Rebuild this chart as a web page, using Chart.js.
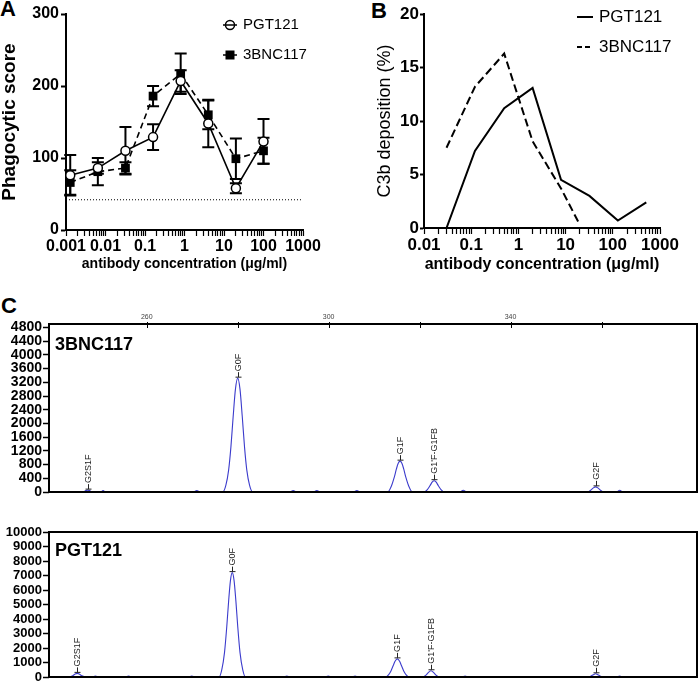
<!DOCTYPE html>
<html>
<head>
<meta charset="utf-8">
<script src="https://cdn.jsdelivr.net/npm/chart.js@4.4.0/dist/chart.umd.min.js"></script>
<style>
body { margin: 0; background: #fff; width: 700px; height: 683px; position: relative; overflow: hidden; font-family: 'Liberation Sans', Arial, sans-serif; }
canvas { position: absolute; }
.tag { position: absolute; font-weight: bold; font-size: 22px; line-height: 22px; }
</style>
</head>
<body>
<div class="tag" style="left:0px;top:-2px">A</div>
<div class="tag" style="left:371px;top:0px">B</div>
<div class="tag" style="left:1px;top:295px">C</div>
<canvas id="chartA" width="350" height="280" style="left:0;top:0"></canvas>
<canvas id="chartB" width="350" height="280" style="left:350px;top:0"></canvas>
<canvas id="chartC1" width="700" height="196" style="left:0;top:300px"></canvas>
<canvas id="chartC2" width="700" height="187" style="left:0;top:496px"></canvas>
<script>
// ---- Panel A: phagocytic score ----
const seriesNames = ['PGT121', '3BNC117'];
const concA = [0.00128, 0.0064, 0.032, 0.16, 0.8, 4, 20, 100];
const pgtA = [76, 86, 110, 129, 207, 148, 58, 123];
const pgtAErr = [28, 8, 33, 18, 15, 33, 7, 31];
const bncA = [66, 81, 86, 186, 217, 160, 99, 110];
const bncAErr = [17, 19, 8, 14, 28, 20, 28, 18];
const cutoffA = 42;
const xLabelsA = ['0.001', '0.01', '0.1', '1', '10', '100', '1000'];

// ---- Panel B: C3b deposition ----
const concBpgt = [0.03, 0.12, 0.5, 2, 8, 32, 128, 512];
const pgtB = [0, 7.2, 11.2, 13.1, 4.5, 3.0, 0.7, 2.4];
const concBbnc = [0.03, 0.12, 0.5, 2, 8, 20];
const bncB = [7.5, 13.2, 16.3, 8.1, 3.7, 0.3];
const xLabelsB = ['0.01', '0.1', '1', '10', '100', '1000'];

// ---- Panel C: glycan profiles [x, signal] ----
const trace3BNC117 = [[238.5,0],[246.0,0],[246.6,40],[247.0,55],[247.4,40],[248.0,0],[249.8,0],[250.4,40],[251.0,0],
  [270.3,0],[271.0,40],[271.7,0],[276.7,0],[277.4,200],[278.0,640],[278.5,1310],[279.0,2200],[279.5,3000],[280.0,3320],
  [280.5,3000],[281.0,2200],[281.5,1310],[282.0,640],[282.6,200],[283.3,0],[291.5,0],[292.2,40],[292.9,0],
  [296.7,0],[297.4,45],[298.1,0],[305.5,0],[306.2,40],[306.9,0],[313.0,0],[313.8,175],[314.4,417],[314.9,673],
  [315.3,837],[315.7,900],[316.1,837],[316.5,673],[317.0,417],[317.6,175],[318.4,0],[320.9,0],[321.7,70],[322.3,188],
  [322.8,295],[323.2,330],[323.6,295],[324.1,188],[324.7,70],[325.5,0],[328.8,0],[329.6,50],[330.4,0],
  [356.9,0],[357.6,50],[358.2,120],[358.7,150],[359.2,120],[359.8,50],[360.5,0],[363.3,0],[364.0,50],[364.7,0],[381,0]];
const tracePGT121 = [[238.5,0],[243.0,0],[243.7,90],[244.2,195],[244.7,250],[245.2,195],[245.7,90],[246.5,0],
  [248.0,0],[248.7,70],[249.4,0],[255.3,0],[256.0,60],[256.7,0],[269.2,0],[269.9,60],[270.6,0],
  [275.9,0],[276.5,510],[277.1,1700],[277.6,3500],[278.0,5230],[278.4,6650],[278.8,7200],[279.2,6650],[279.6,5230],
  [280.0,3500],[280.5,1700],[281.1,510],[281.7,0],[290.1,0],[290.8,70],[291.5,0],[299.2,0],[299.9,60],[300.6,0],
  [305.1,0],[305.8,60],[306.5,0],[312.5,0],[313.2,170],[313.7,420],[314.2,790],[314.6,1090],[315.1,1250],[315.6,1090],
  [316.0,790],[316.5,420],[317.0,170],[317.7,0],[320.7,0],[321.4,130],[321.9,300],[322.5,430],[323.1,300],[323.6,130],
  [324.3,0],[329.3,0],[330.0,70],[330.7,0],[357.0,0],[357.7,70],[358.2,160],[358.7,220],[359.2,160],[359.7,70],
  [360.4,0],[363.3,0],[364.0,70],[364.7,0],[381,0]];
const peakNames = ['G2S1F', 'G0F', 'G1F', "G1'F-G1FB", 'G2F'];
const peakX3BNC = [247.0, 280.0, 315.7, 323.2, 358.7];
const peakY3BNC = [55, 3320, 900, 330, 150];
const peakXPGT = [244.7, 278.8, 315.1, 322.5, 358.7];
const peakYPGT = [250, 7200, 1250, 430, 220];
const xTicksC = [260, 280, 300, 320, 340, 360];
const xLabelsC = ['260', '', '300', '', '340', ''];
const yTicksC1 = [0, 400, 800, 1200, 1600, 2000, 2400, 2800, 3200, 3600, 4000, 4400, 4800];
const yTicksC2 = [0, 1000, 2000, 3000, 4000, 5000, 6000, 7000, 8000, 9000, 10000];

const FONT = "'Liberation Sans', Arial, sans-serif";
Chart.defaults.font.family = FONT;
Chart.defaults.color = '#000';
Chart.defaults.animation = false;

const pts = (xs, ys) => xs.map((x, i) => ({x: x, y: ys[i]}));

// log x axis with minor ticks 2..9 between the labelled decades
function logAxis(labels, size, height) {
  const majors = labels.map(Number);
  return {
    type: 'logarithmic', min: majors[0], max: majors[majors.length - 1],
    afterBuildTicks: s => {
      const vals = [];
      majors.forEach((m, i) => {
        vals.push(m);
        if (i < majors.length - 1) for (let k = 2; k <= 9; k++) vals.push(m * k);
      });
      s.ticks = vals.map(v => ({value: v}));
    },
    afterFit: s => { s.height = height; s.paddingLeft = 0; s.paddingRight = 0; },
    ticks: {
      autoSkip: false, maxRotation: 0, padding: 1,
      font: {size: size, weight: 'bold'},
      callback: v => {
        const i = majors.findIndex(m => Math.abs(m - v) / m < 1e-6);
        return i >= 0 ? labels[i] : '';
      }
    },
    grid: {drawOnChartArea: false, tickLength: 6, color: '#000', tickWidth: 1.2},
    border: {display: true, color: '#000', width: 2}
  };
}

// error bars for panel A
const errorBars = {
  id: 'errorBars',
  beforeDatasetsDraw(chart) {
    const {ctx, scales: {x, y}} = chart;
    ctx.save();
    ctx.strokeStyle = '#000';
    ctx.lineWidth = 2;
    [[pgtA, pgtAErr], [bncA, bncAErr]].forEach(([vals, errs]) => {
      concA.forEach((c, i) => {
        const px = x.getPixelForValue(c);
        const top = y.getPixelForValue(vals[i] + errs[i]);
        const bot = y.getPixelForValue(vals[i] - errs[i]);
        ctx.beginPath();
        ctx.moveTo(px, top); ctx.lineTo(px, bot);
        ctx.moveTo(px - 6, top); ctx.lineTo(px + 6, top);
        ctx.moveTo(px - 6, bot); ctx.lineTo(px + 6, bot);
        ctx.stroke();
      });
    });
    ctx.restore();
  }
};

const legendA = {
  id: 'legendA',
  afterDraw(chart) {
    const ctx = chart.ctx;
    ctx.save();
    ctx.font = '15px ' + FONT;
    ctx.textBaseline = 'middle';
    ctx.fillStyle = '#000';
    ctx.strokeStyle = '#000';
    ctx.lineWidth = 1.5;
    // PGT121: open circle
    ctx.beginPath(); ctx.moveTo(223, 25); ctx.lineTo(237, 25); ctx.stroke();
    ctx.beginPath(); ctx.arc(230, 25, 4.5, 0, Math.PI * 2); ctx.fillStyle = '#fff'; ctx.fill(); ctx.stroke();
    ctx.beginPath(); ctx.moveTo(225.5, 25); ctx.lineTo(234.5, 25); ctx.stroke();
    ctx.fillStyle = '#000';
    ctx.fillText(seriesNames[0], 243, 25);
    // 3BNC117: filled square
    ctx.beginPath(); ctx.moveTo(223, 55); ctx.lineTo(237, 55); ctx.stroke();
    ctx.fillRect(225.5, 50.5, 9, 9);
    ctx.fillText(seriesNames[1], 243, 55);
    ctx.restore();
  }
};

new Chart(document.getElementById('chartA'), {
  type: 'line',
  data: {
    datasets: [
      {data: [{x: 0.001, y: cutoffA}, {x: 1000, y: cutoffA}], borderColor: '#000', borderWidth: 1,
       borderDash: [1, 2], pointRadius: 0},
      {label: seriesNames[0], data: pts(concA, pgtA), borderColor: '#000', borderWidth: 1.6,
       pointStyle: 'circle', pointRadius: 4.5, pointBackgroundColor: '#fff', pointBorderColor: '#000', pointBorderWidth: 1.5},
      {label: seriesNames[1], data: pts(concA, bncA), borderColor: '#000', borderWidth: 1.6, borderDash: [6, 4],
       pointStyle: 'rect', pointRadius: 6.2, pointBackgroundColor: '#000', pointBorderColor: '#000', pointBorderWidth: 0}
    ]
  },
  options: {
    responsive: false, devicePixelRatio: 1,
    layout: {padding: {top: 14, right: 47, bottom: 0, left: 0}},
    plugins: {legend: {display: false}, tooltip: {enabled: false}},
    scales: {
      x: Object.assign(logAxis(xLabelsA, 16, 50), {
        title: {display: true, text: 'antibody concentration (\u03bcg/ml)', font: {size: 14, weight: 'bold'}, padding: {top: 0, bottom: 7}}
      }),
      y: {
        min: 0, max: 300,
        afterFit: s => { s.width = 66; s.paddingTop = 0; s.paddingBottom = 0; },
        ticks: {stepSize: 100, padding: 2, font: {size: 16, weight: 'bold'}},
        grid: {drawOnChartArea: false, tickLength: 5, color: '#000', tickWidth: 2},
        border: {color: '#000', width: 2},
        title: {display: true, text: 'Phagocytic score', font: {size: 19, weight: 'bold', lineHeight: 1}, padding: 0}
      }
    }
  },
  plugins: [errorBars, legendA]
});

// ---- B ----
const legendB = {
  id: 'legendB',
  afterDraw(chart) {
    const ctx = chart.ctx;
    ctx.save();
    ctx.font = '17px ' + FONT;
    ctx.textBaseline = 'middle';
    ctx.fillStyle = '#000';
    ctx.strokeStyle = '#000';
    ctx.lineWidth = 2;
    ctx.beginPath(); ctx.moveTo(227, 17); ctx.lineTo(243, 17); ctx.stroke();
    ctx.fillText(seriesNames[0], 249, 17);
    ctx.setLineDash([5, 3]);
    ctx.beginPath(); ctx.moveTo(227, 47); ctx.lineTo(243, 47); ctx.stroke();
    ctx.setLineDash([]);
    ctx.fillText(seriesNames[1], 249, 47);
    ctx.restore();
  }
};

new Chart(document.getElementById('chartB'), {
  type: 'line',
  data: {
    datasets: [
      {label: seriesNames[0], data: pts(concBpgt, pgtB), borderColor: '#000', borderWidth: 2, pointRadius: 0},
      {label: seriesNames[1], data: pts(concBbnc, bncB), borderColor: '#000', borderWidth: 2, borderDash: [8, 4], pointRadius: 0}
    ]
  },
  options: {
    responsive: false, devicePixelRatio: 1,
    layout: {padding: {top: 14, right: 40, bottom: 0, left: 0}},
    plugins: {legend: {display: false}, tooltip: {enabled: false}},
    scales: {
      x: Object.assign(logAxis(xLabelsB, 17, 52), {
        title: {display: true, text: 'antibody concentration (\u03bcg/ml)', font: {size: 16, weight: 'bold'}, padding: {top: 0, bottom: 6}}
      }),
      y: {
        min: 0, max: 20,
        afterFit: s => { s.width = 74; s.paddingTop = 0; s.paddingBottom = 0; },
        ticks: {stepSize: 5, padding: 1, font: {size: 17, weight: 'bold'}},
        grid: {drawOnChartArea: false, tickLength: 4, color: '#000', tickWidth: 2},
        border: {color: '#000', width: 2},
        title: {display: true, text: 'C3b deposition (%)', font: {size: 18, lineHeight: 1}, padding: {top: 26, bottom: 0}}
      }
    }
  },
  plugins: [legendB]
});

// ---- C ----
function glycanPlugin(xs, ys, panelName, nameOffset, topTicks) {
  return {
    id: 'glycan',
    afterDatasetsDraw(chart) {
      const {ctx, chartArea: a, scales: {x, y}} = chart;
      ctx.save();
      ctx.strokeStyle = '#222';
      ctx.fillStyle = '#222';
      ctx.lineWidth = 1;
      ctx.font = '9px ' + FONT;
      peakNames.forEach((n, i) => {
        const px = Math.round(x.getPixelForValue(xs[i])) + 0.5;
        const py = y.getPixelForValue(ys[i]);
        ctx.beginPath(); ctx.moveTo(px, py - 1); ctx.lineTo(px, py - 6); ctx.stroke();
        ctx.beginPath(); ctx.moveTo(px - 3, py - 1); ctx.lineTo(px + 3, py - 1); ctx.stroke();
        ctx.save();
        ctx.translate(px, py - 7);
        ctx.rotate(-Math.PI / 2);
        ctx.textAlign = 'left';
        ctx.textBaseline = 'middle';
        ctx.fillText(n, 0, 0);
        ctx.restore();
      });
      if (topTicks) {
        ctx.strokeStyle = '#000';
        xTicksC.forEach(v => {
          const px = Math.round(x.getPixelForValue(v)) + 0.5;
          ctx.beginPath(); ctx.moveTo(px, a.top - 2); ctx.lineTo(px, a.top + 4); ctx.stroke();
        });
      }
      ctx.strokeStyle = '#000';
      ctx.lineWidth = 2;
      ctx.strokeRect(a.left, a.top, a.right - a.left, a.bottom - a.top);
      ctx.fillStyle = '#000';
      ctx.font = 'bold 18px ' + FONT;
      ctx.textBaseline = 'alphabetic';
      ctx.fillText(panelName, a.left + 6, a.top + nameOffset);
      ctx.restore();
    }
  };
}

function glycanChart(id, trace, yMax, yTicks, tickSize, xs, ys, name, nameOffset, pad, showTop) {
  new Chart(document.getElementById(id), {
    type: 'line',
    data: {
      datasets: [{data: trace.map(p => ({x: p[0], y: p[1]})), borderColor: '#3b3bcc', borderWidth: 1.1,
                  pointRadius: 0, cubicInterpolationMode: 'monotone'}]
    },
    options: {
      responsive: false, devicePixelRatio: 1,
      layout: {padding: pad},
      plugins: {legend: {display: false}, tooltip: {enabled: false}},
      scales: {
        x: {
          type: 'linear', position: 'top', min: 238.5, max: 381, display: showTop,
          afterBuildTicks: s => { s.ticks = xTicksC.map(v => ({value: v})); },
          afterFit: s => { s.height = 24; s.paddingLeft = 0; s.paddingRight = 0; },
          ticks: {autoSkip: false, maxRotation: 0, padding: 3, color: '#444', font: {size: 7},
                  callback: (v, i) => xLabelsC[i]},
          grid: {display: false, drawTicks: false},
          border: {display: false}
        },
        y: {
          min: 0, max: yMax,
          afterBuildTicks: s => { s.ticks = yTicks.map(v => ({value: v})); },
          afterFit: s => { s.width = 49; s.paddingTop = 0; s.paddingBottom = 0; },
          ticks: {autoSkip: false, padding: 1, font: {size: tickSize, weight: 'bold'},
                  callback: v => String(v)},
          grid: {drawOnChartArea: false, tickLength: 6, color: '#000', tickWidth: 1.5},
          border: {display: false}
        }
      }
    },
    plugins: [glycanPlugin(xs, ys, name, nameOffset, showTop)]
  });
}

glycanChart('chartC1', trace3BNC117, 4900, yTicksC1, 14, peakX3BNC, peakY3BNC, seriesNames[1], 26,
  {top: 0, right: 3, bottom: 4, left: 0}, true);
glycanChart('chartC2', tracePGT121, 10000, yTicksC2, 13, peakXPGT, peakYPGT, seriesNames[0], 24,
  {top: 12, right: 3, bottom: 6, left: 0}, false);
</script>
</body>
</html>
